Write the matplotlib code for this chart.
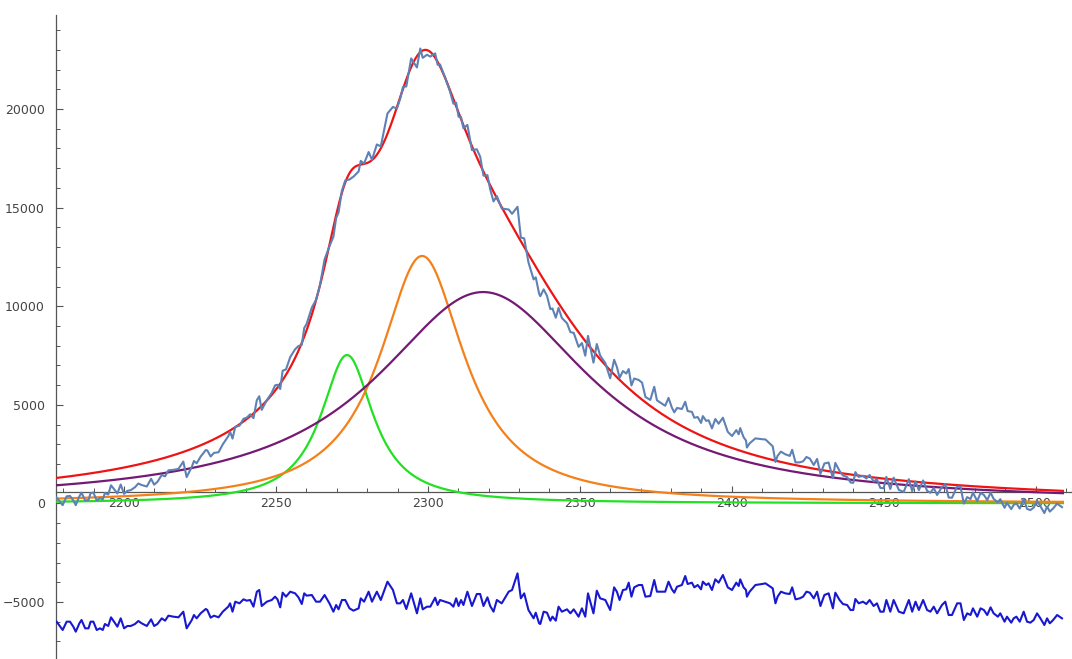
import numpy as np
import matplotlib.pyplot as plt
from matplotlib.ticker import MultipleLocator

# fitted peak components (green, orange, purple)
peak_centers = [2273.4, 2298.1, 2318.2]
peak_heights = [7525, 12550, 10720]
peak_widths = [10.5, 17.0, 43.0]
# heights behind the red total fit curve
fit_heights = [7059, 12681, 11200]

# residual trace (plotted at its own level, data = fit + resid + offset)
resid_offset = 5000
resid_x = [2177.8, 2179.8, 2181.1, 2182.2, 2183.3, 2184.1, 2185.3, 2186.0, 2187.2, 2188.3,
           2189.0, 2189.9, 2191.0, 2192.1, 2193.0, 2193.7, 2194.8, 2195.7, 2196.7, 2197.8,
           2198.9, 2200.0, 2201.1, 2202.2, 2203.6, 2204.7, 2205.8, 2207.5, 2208.9, 2209.9,
           2211.0, 2212.4, 2213.5, 2214.6, 2216.2, 2217.9, 2219.5, 2220.6, 2222.3, 2223.0,
           2223.9, 2225.2, 2226.9, 2227.4, 2228.5, 2229.6, 2231.1, 2232.5, 2234.3, 2234.9,
           2235.7, 2236.6, 2238.0, 2239.3, 2240.4, 2241.5, 2242.6, 2243.7, 2244.5, 2245.3,
           2247.0, 2248.6, 2249.7, 2250.5, 2251.4, 2252.2, 2253.3, 2254.7, 2256.3, 2257.4,
           2258.5, 2259.3, 2260.1, 2261.8, 2263.2, 2264.5, 2266.0, 2267.6, 2268.9, 2269.8,
           2270.6, 2271.7, 2272.8, 2274.2, 2275.5, 2277.2, 2277.9, 2279.0, 2280.5, 2281.6,
           2283.2, 2284.5, 2286.7, 2288.5, 2289.8, 2290.9, 2291.8, 2292.9, 2294.5, 2296.4,
           2297.5, 2298.3, 2299.7, 2300.8, 2302.4, 2303.2, 2304.0, 2305.7, 2307.3, 2308.4,
           2309.3, 2310.1, 2310.9, 2311.7, 2313.0, 2314.5, 2316.1, 2317.2, 2318.3, 2319.6,
           2320.5, 2321.6, 2322.7, 2324.3, 2326.6, 2327.7, 2329.5, 2330.6, 2331.7, 2333.1,
           2334.8, 2335.5, 2336.6, 2337.0, 2338.1, 2339.2, 2340.3, 2341.0, 2342.1, 2343.0,
           2344.1, 2345.8, 2346.9, 2348.0, 2349.6, 2350.7, 2351.8, 2352.7, 2354.5, 2355.6,
           2356.7, 2358.4, 2360.0, 2361.3, 2362.2, 2363.1, 2364.2, 2365.3, 2366.1, 2367.0,
           2367.9, 2369.4, 2370.5, 2371.6, 2373.2, 2374.5, 2375.4, 2377.1, 2378.1, 2379.2,
           2380.3, 2381.1, 2382.0, 2383.6, 2384.7, 2385.5, 2386.9, 2387.7, 2388.8, 2389.9,
           2390.5, 2391.6, 2392.4, 2393.5, 2394.6, 2395.7, 2397.1, 2398.7, 2400.1, 2401.5,
           2402.3, 2402.8, 2403.9, 2404.7, 2405.0, 2405.9, 2407.8, 2410.0, 2411.1, 2412.7,
           2413.5, 2414.4, 2415.1, 2416.2, 2417.6, 2419.1, 2419.9, 2421.0, 2422.4, 2423.5,
           2424.6, 2425.7, 2427.0, 2428.1, 2429.2, 2430.5, 2431.9, 2433.3, 2434.1, 2435.5,
           2436.6, 2438.0, 2439.1, 2440.0, 2440.7, 2441.8, 2443.2, 2444.3, 2445.4, 2446.7,
           2447.8, 2448.9, 2450.0, 2450.9, 2452.2, 2453.3, 2455.0, 2456.6, 2458.3, 2459.4,
           2460.5, 2461.6, 2463.0, 2464.3, 2465.4, 2466.5, 2467.6, 2469.2, 2470.3, 2471.4,
           2472.5, 2474.2, 2475.3, 2476.4, 2477.5, 2478.6, 2479.4, 2480.8, 2481.9, 2483.0,
           2484.1, 2485.2, 2486.2, 2487.6, 2488.4, 2489.8, 2490.6, 2492.0, 2492.8, 2493.7,
           2494.8, 2496.1, 2497.2, 2498.3, 2499.4, 2500.5, 2501.6, 2502.9, 2503.8, 2504.7,
           2505.8, 2507.1, 2508.7]
resid_y = [-5997, -6419, -5997, -5997, -6250, -6504, -6081, -5912, -6335, -6335,
           -5997, -5997, -6419, -6335, -6419, -6115, -6216, -5777, -5997, -6250,
           -5828, -6335, -6216, -6216, -6115, -5963, -6081, -6216, -5878, -6216,
           -6115, -5828, -5946, -5692, -5743, -5777, -5490, -6335, -5912, -5659,
           -5828, -5574, -5354, -5405, -5794, -5692, -5777, -5490, -5236, -5067,
           -5490, -4983, -5067, -4864, -4932, -4898, -5236, -4476, -4391, -5202,
           -4983, -4898, -4729, -4864, -5270, -4526, -4729, -4476, -4560, -4763,
           -5101, -4560, -4678, -4645, -4983, -4983, -4645, -5067, -5490, -5152,
           -5371, -4898, -4898, -5321, -5439, -5321, -4814, -4983, -4476, -4983,
           -4476, -4898, -3969, -4391, -5067, -5067, -4898, -5354, -4560, -5574,
           -4814, -5371, -5236, -5236, -4780, -5152, -4898, -4983, -5067, -5236,
           -4814, -5202, -4898, -5152, -4476, -5202, -4594, -4594, -5202, -4763,
           -5202, -5490, -4898, -5067, -4476, -4391, -3546, -4814, -4560, -5405,
           -5828, -5540, -6081, -6115, -5490, -5540, -5946, -5743, -5946, -5236,
           -5490, -5371, -5574, -5371, -5743, -5321, -5743, -4560, -5574, -4425,
           -4814, -4898, -5405, -4256, -4476, -4898, -4391, -4357, -4019, -4729,
           -4256, -4138, -4138, -4729, -4695, -3884, -4476, -4476, -4476, -3969,
           -4357, -4526, -4222, -4138, -3681, -4087, -4019, -4256, -4138, -4357,
           -3969, -4138, -4053, -4391, -3850, -4019, -3631, -4256, -4391, -4019,
           -4188, -3850, -4256, -4391, -4729, -4476, -4138, -4087, -4053, -4222,
           -4307, -5067, -4729, -4476, -4560, -4594, -4256, -4864, -4814, -4729,
           -4476, -4526, -4814, -4476, -5202, -4645, -4560, -5321, -4526, -4898,
           -5101, -5152, -5405, -5405, -4847, -5067, -4983, -5101, -4898, -5202,
           -5067, -5490, -5490, -4898, -5490, -4898, -5490, -5574, -4898, -5490,
           -4983, -5405, -4898, -5405, -5490, -5236, -5574, -5152, -4983, -5659,
           -5659, -5067, -5067, -5912, -5574, -5659, -5321, -5743, -5321, -5405,
           -5659, -5270, -5574, -5743, -5574, -5997, -5743, -6047, -5828, -5743,
           -5997, -5490, -5997, -6047, -5912, -5574, -5828, -6166, -5828, -6081,
           -5912, -5659, -5828]

x_ticks = [2200, 2250, 2300, 2350, 2400, 2450, 2500]
y_ticks = [-5000, 0, 5000, 10000, 15000, 20000]


def lorentz(x, x0, h, g):
    return h * g**2 / ((x - x0)**2 + g**2)


xs = np.linspace(2177.6, 2509, 900)
comps = [lorentz(xs, c, h, w) for c, h, w in zip(peak_centers, peak_heights, peak_widths)]
fit = sum(lorentz(xs, c, h, w) for c, h, w in zip(peak_centers, fit_heights, peak_widths))

rx = np.array(resid_x)
ry = np.array(resid_y)
data_y = sum(lorentz(rx, c, h, w) for c, h, w in zip(peak_centers, fit_heights, peak_widths)) + ry + resid_offset

fig = plt.figure(figsize=(10.72, 6.59), dpi=100)
ax = fig.add_axes([56 / 1072, 0, 1 - 56 / 1072, 644 / 659])

comp_colors = ['#22E022', '#F5801A', '#741A74']
for yy, col in zip(comps, comp_colors):
    ax.plot(xs, yy, color=col, lw=1.6, zorder=3)
ax.plot(xs, fit, color='#EE1414', lw=1.6, zorder=3)
ax.plot(rx, data_y, color='#5E81B5', lw=1.5, zorder=4)
ax.plot(rx, ry, color='#1818D0', lw=1.5, zorder=4)

ax.set_xlim(2177.6, 2512)
ax.set_ylim(-7890, 24770)

for s in ['top', 'right']:
    ax.spines[s].set_visible(False)
ax.spines['bottom'].set_position(('data', 590))
for s in ['bottom', 'left']:
    ax.spines[s].set_color('#555555')
    ax.spines[s].set_linewidth(0.9)

ax.set_xticks(x_ticks)
ax.set_yticks(y_ticks)
ax.xaxis.set_minor_locator(MultipleLocator(10))
ax.yaxis.set_minor_locator(MultipleLocator(1000))
ax.tick_params(axis='x', which='major', direction='in', length=4, width=0.8,
               color='#555555', labelsize=9, labelcolor='#444444', pad=4)
ax.tick_params(axis='x', which='minor', direction='in', length=3, width=0.7, color='#555555')
ax.tick_params(axis='y', which='major', direction='in', length=5, width=0.8,
               color='#555555', labelsize=9, labelcolor='#444444', pad=8)
ax.tick_params(axis='y', which='minor', direction='in', length=3, width=0.7, color='#555555')

fig.savefig('out.png', dpi=100)
